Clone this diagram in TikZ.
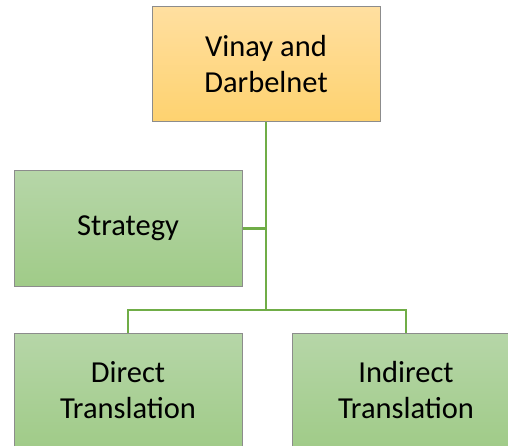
\documentclass[tikz,border=0pt]{standalone}
\usepackage{fontspec}
\setmainfont{Carlito}
\definecolor{orgtop}{HTML}{FFDFA0}
\definecolor{orgbot}{HTML}{FED26F}
\definecolor{grntop}{HTML}{B6D6A8}
\definecolor{grnbot}{HTML}{A0CB88}
\definecolor{conngreen}{HTML}{70AD47}
\definecolor{boxedge}{HTML}{8C8C8C}
\begin{document}
\begin{tikzpicture}[x=1pt,y=-1pt,
  box/.style={draw=boxedge, line width=1pt, minimum width=228pt, minimum height=115pt,
    inner sep=0pt, align=center, font=\fontsize{30.5}{36}\selectfont},
  orgbox/.style={box, top color=orgtop, bottom color=orgbot},
  grnbox/.style={box, top color=grntop, bottom color=grnbot},
  conn/.style={draw=conngreen, line width=2.5pt}]
\useasboundingbox (0,0) rectangle (508,446);
\clip (0,0) rectangle (508,446);
\coordinate (bus) at (266,310);
\node[orgbox] (top) at (266,64.5) {Vinay and\\Darbelnet};
\node[grnbox] (strat) at (128,228.5) {Strategy};
\node[grnbox] (direct) at (128,390.5) {Direct\\Translation};
\node[grnbox] (indirect) at (406,390.5) {Indirect\\Translation};
\draw[conn] (top.south) -- (bus);
\draw[conn] (strat.east) -- (strat.east -| bus);
\draw[conn] (direct.north) |- (bus) -| (indirect.north);
\end{tikzpicture}
\end{document}
